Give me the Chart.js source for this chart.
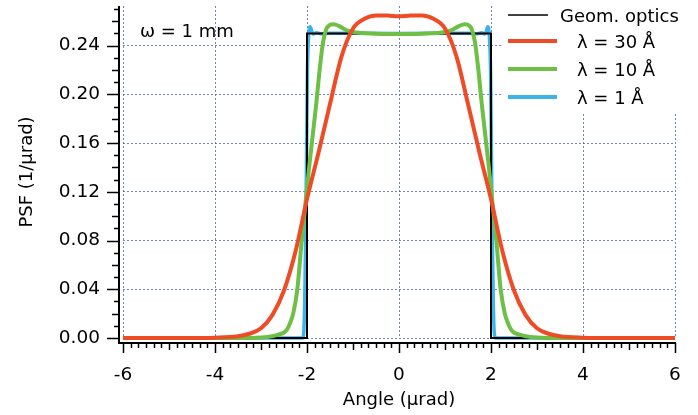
<!DOCTYPE html>
<html>
<head>
<meta charset="utf-8">
<script src="https://cdn.jsdelivr.net/npm/chart.js@4/dist/chart.umd.min.js"></script>
<style>
  body { margin: 0; background: #fff; }
  canvas { display: block; }
</style>
</head>
<body>
<canvas id="psfChart" width="698" height="415"></canvas>
<script>
// Geometric optics (box)
const geomX = [-6, -2, -2, 2, 2, 6];
const geomY = [0, 0, 0.25, 0.25, 0, 0];

// lambda = 30 A
const redX = [-6, -5, -4.5, -4, -3.5, -3.25, -3, -2.75, -2.5, -2.25, -2, -1.75, -1.5, -1.25, -1, -0.75, -0.5, -0.25, 0,
              0.25, 0.5, 0.75, 1, 1.25, 1.5, 1.75, 2, 2.25, 2.5, 2.75, 3, 3.25, 3.5, 4, 4.5, 5, 6];
const redY = [0, 0, 0, 0.0003, 0.0015, 0.0035, 0.008, 0.019, 0.039, 0.071, 0.114, 0.152, 0.192, 0.231, 0.254, 0.262, 0.2648, 0.2647, 0.264,
              0.2647, 0.2648, 0.262, 0.254, 0.231, 0.192, 0.152, 0.114, 0.071, 0.039, 0.019, 0.008, 0.0035, 0.0015, 0.0003, 0, 0, 0];

// lambda = 10 A
const greenX = [-6, -3.5, -3, -2.75, -2.6, -2.5, -2.44, -2.37, -2.3, -2.21, -2.12, -2.04, -1.96, -1.88, -1.8, -1.72, -1.65, -1.58, -1.5, -1.43, -1.3, -1.15, -1, -0.5, 0,
                0.5, 1, 1.15, 1.3, 1.43, 1.5, 1.58, 1.65, 1.72, 1.8, 1.88, 1.96, 2.04, 2.12, 2.21, 2.3, 2.37, 2.44, 2.5, 2.6, 2.75, 3, 3.5, 6];
const greenY = [0, 0, 0.0005, 0.0015, 0.003, 0.0045, 0.0066, 0.012, 0.02, 0.04, 0.078, 0.108, 0.138, 0.165, 0.192, 0.222, 0.243, 0.2535, 0.257, 0.2576, 0.256, 0.2528, 0.2512, 0.2498, 0.2495,
                0.2498, 0.2512, 0.2528, 0.256, 0.2576, 0.257, 0.2535, 0.243, 0.222, 0.192, 0.165, 0.138, 0.108, 0.078, 0.04, 0.02, 0.012, 0.0066, 0.0045, 0.003, 0.0015, 0.0005, 0, 0];

// lambda = 1 A
const blueX = [-6, -2.1, -2.07, -2.05, -2.03, -2.01, -1.99, -1.96, -1.93, -1.9, -1.86, -1.8, -1.7, -1.5, 0,
               1.5, 1.7, 1.8, 1.86, 1.9, 1.93, 1.96, 1.99, 2.01, 2.03, 2.05, 2.07, 2.1, 6];
const blueY = [0, 0, 0.005, 0.03, 0.08, 0.15, 0.22, 0.25, 0.2555, 0.252, 0.2495, 0.2505, 0.2498, 0.2502, 0.25,
               0.2502, 0.2498, 0.2505, 0.2495, 0.252, 0.2555, 0.25, 0.22, 0.15, 0.08, 0.03, 0.005, 0, 0];

const xTicks = [-6, -4, -2, 0, 2, 4, 6];
const yTicks = [0, 0.04, 0.08, 0.12, 0.16, 0.20, 0.24];

const pts = (xs, ys) => xs.map((x, i) => ({ x: x, y: ys[i] }));

const gridColor = 'rgba(70, 90, 175, 0.75)';
Chart.defaults.font.family = "'DejaVu Sans', sans-serif";
Chart.defaults.color = '#000';

// axes drawn offset from the plot like the original, plus legend and label
const decorations = {
    id: 'decorations',
    afterDraw(chart) {
        const c = chart.ctx;
        const xs = chart.scales.x, ys = chart.scales.y;
        const axX = 119, axY = 343;
        c.save();
        c.strokeStyle = '#000';

        // axis lines
        c.lineWidth = 2;
        c.beginPath();
        c.moveTo(axX, ys.getPixelForValue(ys.max));
        c.lineTo(axX, axY);
        c.lineTo(xs.getPixelForValue(6) + 1, axY);
        c.stroke();

        // x ticks
        c.lineWidth = 1.5;
        for (let i = -36; i <= 36; i++) {
            const px = Math.round(xs.getPixelForValue(i / 6)) + 0.5;
            let len = 5;
            if (i % 6 === 0) len = (i % 12 === 0) ? 10 : 7;
            c.beginPath();
            c.moveTo(px, axY);
            c.lineTo(px, axY + len);
            c.stroke();
        }
        // y ticks
        for (let i = 0; i <= 27; i++) {
            const py = Math.round(ys.getPixelForValue(i / 100)) + 0.5;
            let len = 5;
            if (i % 2 === 0) len = (i % 4 === 0) ? 12 : 7;
            c.beginPath();
            c.moveTo(axX, py);
            c.lineTo(axX - len, py);
            c.stroke();
        }

        // omega label
        c.fillStyle = '#000';
        c.font = "18px 'DejaVu Sans'";
        c.textBaseline = 'alphabetic';
        c.textAlign = 'left';
        c.fillText('ω = 1 mm', 140, 37);

        // legend box
        c.fillStyle = '#fff';
        c.fillRect(503, 0, 195, 112);
        const order = [2, 0, 1, 3];
        const lineY = [15, 41, 69, 97];
        const textX = [560, 577, 577, 577];
        order.forEach((di, k) => {
            const ds = chart.data.datasets[di];
            c.strokeStyle = ds.borderColor;
            c.lineWidth = di === 2 ? 1.5 : 4;
            c.beginPath();
            c.moveTo(508, lineY[k]);
            c.lineTo(di === 2 ? 548 : 557, lineY[k]);
            c.stroke();
            c.fillStyle = '#000';
            c.fillText(ds.label, textX[k], lineY[k] + 7);
        });
        c.restore();
    }
};

const ctx = document.getElementById('psfChart').getContext('2d');
const psfChart = new Chart(ctx, {
    type: 'line',
    data: {
        datasets: [
            { label: 'λ = 30 Å', data: pts(redX, redY), borderColor: '#ee4c27', borderWidth: 4, cubicInterpolationMode: 'monotone', order: 0 },
            { label: 'λ = 10 Å', data: pts(greenX, greenY), borderColor: '#6dbf45', borderWidth: 4, cubicInterpolationMode: 'monotone', order: 1 },
            { label: 'Geom. optics', data: pts(geomX, geomY), borderColor: '#000', borderWidth: 2, tension: 0, order: 2 },
            { label: 'λ = 1 Å', data: pts(blueX, blueY), borderColor: '#3cb4e8', borderWidth: 3.5, cubicInterpolationMode: 'monotone', order: 3 }
        ]
    },
    options: {
        responsive: false,
        animation: false,
        devicePixelRatio: 1,
        layout: { padding: { top: 6, right: 23, left: 0, bottom: 0 } },
        elements: { point: { radius: 0 }, line: { fill: false } },
        datasets: { line: { clip: 8 } },
        plugins: { legend: { display: false }, tooltip: { enabled: false } },
        scales: {
            x: {
                type: 'linear',
                min: -6,
                max: 6,
                afterBuildTicks: s => { s.ticks = xTicks.map(v => ({ value: v })); },
                afterFit: s => { s.height = 77; s.paddingLeft = 0; s.paddingRight = 0; },
                ticks: { font: { size: 18.5 }, padding: 26, maxRotation: 0 },
                grid: { color: gridColor, drawTicks: false, lineWidth: 1 },
                border: { display: false, dash: [2, 2] },
                title: { display: true, text: 'Angle (μrad)', font: { size: 18 }, padding: { top: 0, bottom: 4 } }
            },
            y: {
                type: 'linear',
                min: 0,
                max: 0.2725,
                afterBuildTicks: s => { s.ticks = yTicks.map(v => ({ value: v })); },
                afterFit: s => { s.width = 123; s.paddingTop = 0; s.paddingBottom = 0; },
                ticks: { font: { size: 18.5 }, padding: 23, callback: v => v.toFixed(2) },
                grid: { color: gridColor, drawTicks: false, lineWidth: 1 },
                border: { display: false, dash: [2, 2] },
                title: { display: true, text: 'PSF (1/μrad)', font: { size: 18 }, padding: { top: 17, bottom: 0 } }
            }
        }
    },
    plugins: [decorations]
});
</script>
</body>
</html>
